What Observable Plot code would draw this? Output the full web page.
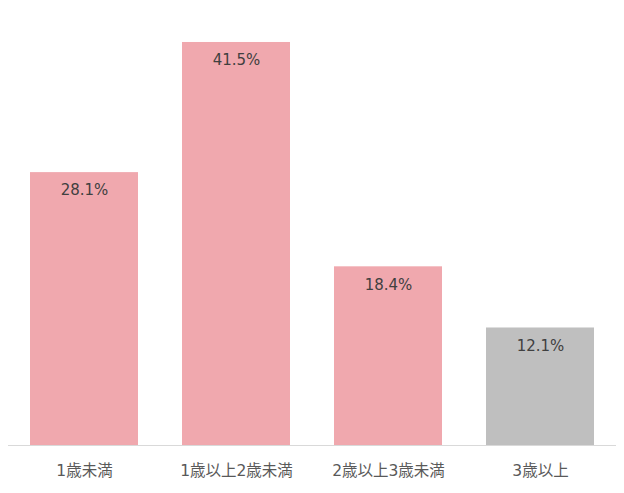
<!DOCTYPE html>
<html>
<head>
<meta charset="utf-8">
<script src="https://cdn.jsdelivr.net/npm/d3@7"></script>
<script src="https://cdn.jsdelivr.net/npm/@observablehq/plot@0.6"></script>
<style>
body { margin: 0; background: #fff; }
</style>
</head>
<body>
<div id="chart"></div>
<script>
const categories = ["1歳未満", "1歳以上2歳未満", "2歳以上3歳未満", "3歳以上"];
const values = [28.1, 41.5, 18.4, 12.1];
const colors = ["#F0A8AE", "#F0A8AE", "#F0A8AE", "#BFBFBF"];

const data = categories.map((c, i) => ({cat: c, v: values[i], color: colors[i]}));

const chart = Plot.plot({
  width: 624,
  height: 493,
  marginLeft: 8,
  marginRight: 8,
  marginTop: 8,
  marginBottom: 48,
  style: {fontFamily: "'DejaVu Sans', 'Noto Sans CJK JP', sans-serif", background: "#fff"},
  x: {domain: categories, paddingInner: 0.29, paddingOuter: 0.145, label: null},
  y: {domain: [0, 45], axis: null},
  marks: [
    Plot.barY(data, {x: "cat", y: "v", fill: "color"}),
    Plot.ruleY([0], {stroke: "#D9D9D9", strokeWidth: 1}),
    Plot.text(data, {x: "cat", y: "v", text: d => d.v.toFixed(1) + "%", dy: 18, fontSize: 15, fill: "#404040"}),
    Plot.axisX({tickSize: 0, tickPadding: 19, fontSize: 15.5, color: "#595959", label: null})
  ]
});
document.getElementById("chart").appendChild(chart);
</script>
</body>
</html>
